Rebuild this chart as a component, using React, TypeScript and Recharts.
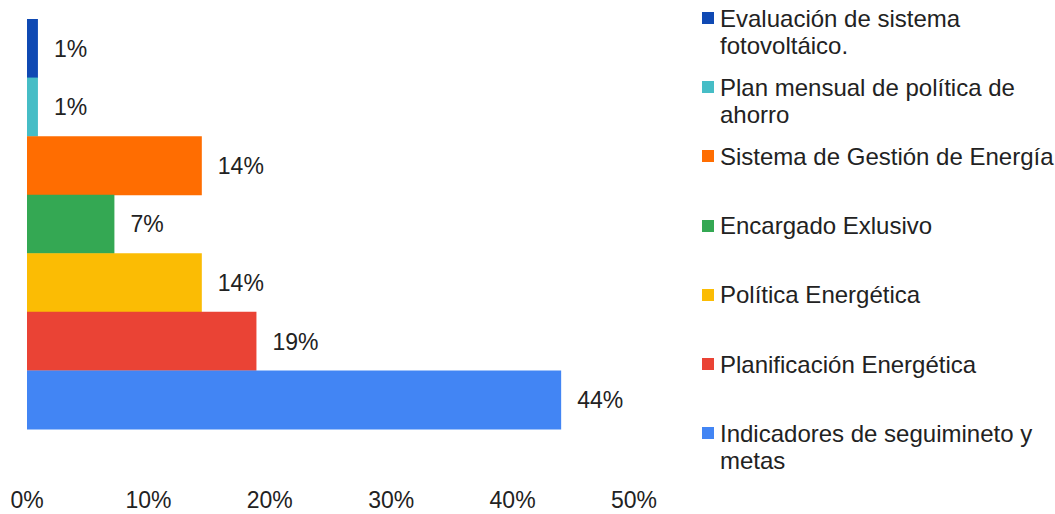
import { BarChart, Bar, XAxis, YAxis, Cell, LabelList } from 'recharts';

const categories = [
    'Evaluación de sistema fotovoltáico.',
    'Plan mensual de política de ahorro',
    'Sistema de Gestión de Energía',
    'Encargado Exlusivo',
    'Política Energética',
    'Planificación Energética',
    'Indicadores de seguimineto y metas'
];
const shares = [0.9, 0.9, 14.4, 7.2, 14.4, 18.9, 44.0];
const colors = ['#0f49b3', '#46bdc6', '#ff6d01', '#34a853', '#fbbc04', '#ea4335', '#4285f4'];
const xTicks = [0, 10, 20, 30, 40, 50];

const font = '"Liberation Sans", Arial, sans-serif';
const textColor = '#222222';

export default function App() {
    const data = categories.map((name, i) => ({ name, value: shares[i], color: colors[i] }));

    return (
        <div style={{ position: 'absolute', left: 0, top: 0, width: 1055, height: 514, overflow: 'hidden', background: '#fff', fontFamily: font }}>
            <BarChart
                width={1055}
                height={514}
                data={data}
                layout="vertical"
                margin={{ top: 19, right: 421, left: 27, bottom: 0 }}
                barCategoryGap={0}
            >
                <XAxis
                    type="number"
                    domain={[0, 50]}
                    ticks={xTicks}
                    tickFormatter={(v) => `${v}%`}
                    axisLine={false}
                    tickLine={false}
                    tickSize={0}
                    tickMargin={63}
                    height={85}
                    interval={0}
                    tick={{ fill: textColor, fontSize: 23, fontFamily: font }}
                />
                <YAxis type="category" dataKey="name" hide />
                <Bar dataKey="value" isAnimationActive={false}>
                    {data.map((d, i) => (
                        <Cell key={`cell-${i}`} fill={d.color} />
                    ))}
                    <LabelList
                        dataKey="value"
                        position="right"
                        offset={16}
                        formatter={(v: number) => `${Math.round(v)}%`}
                        style={{ fill: textColor, fontSize: 23, fontFamily: font }}
                    />
                </Bar>
            </BarChart>

            {/* legend, one entry per category, top to bottom like the bars */}
            {data.map((d, i) => (
                <div
                    key={d.name}
                    style={{
                        position: 'absolute',
                        left: 702,
                        top: 18 + i * 69.2 - 13.5,
                        width: 353,
                        display: 'flex',
                        alignItems: 'flex-start',
                        fontSize: 24,
                        lineHeight: '27px',
                        color: textColor
                    }}
                >
                    <span style={{ width: 12, height: 12, marginTop: 7.5, marginRight: 6, background: d.color, flexShrink: 0 }} />
                    <span style={{ width: 335 }}>{d.name}</span>
                </div>
            ))}
        </div>
    );
}
